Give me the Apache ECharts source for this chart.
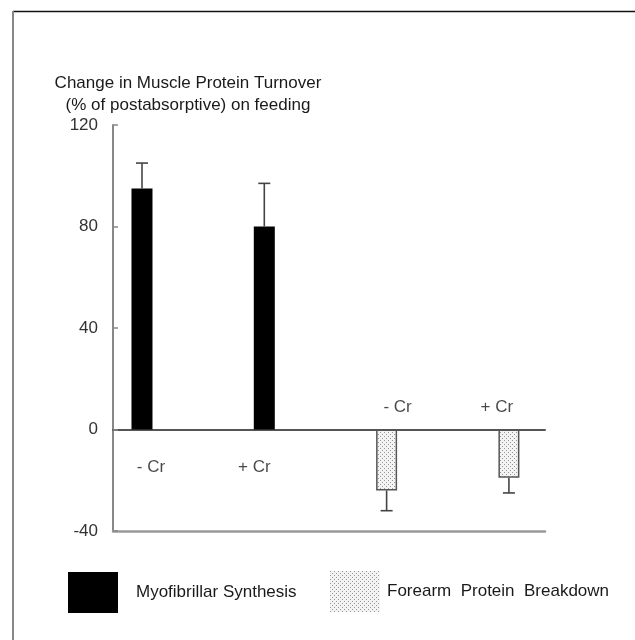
<!DOCTYPE html>
<html>
<head>
<meta charset="utf-8">
<script src="https://cdn.jsdelivr.net/npm/echarts@6/dist/echarts.min.js"></script>
<style>
  html, body { margin: 0; padding: 0; background: #fff; }
  #chart { width: 635px; height: 640px; }
</style>
</head>
<body>
<div id="chart"></div>
<script>
// Conditions under each bar (with / without creatine)
const categories = ['- Cr', '+ Cr', '- Cr', '+ Cr'];
// Change on feeding, % of postabsorptive
const synthesisValues = [95, 80];
const synthesisErrors = [10, 17];
const breakdownValues = [-24, -19];
const breakdownErrors = [8, 6];
const yTicks = [-40, 0, 40, 80, 120];
const seriesNames = ['Myofibrillar Synthesis', 'Forearm  Protein  Breakdown'];

const FONT = 'Liberation Sans, Arial, sans-serif';
const TEXT = '#1a1a1a';

// stippled fill used for the breakdown bars
function stipple() {
  const c = document.createElement('canvas');
  c.width = 4; c.height = 4;
  const g = c.getContext('2d');
  g.fillStyle = '#f3f3f3';
  g.fillRect(0, 0, 4, 4);
  g.fillStyle = '#959595';
  g.fillRect(0, 0, 1, 1);
  g.fillRect(2, 2, 1, 1);
  return { image: c, repeat: 'repeat' };
}
const dots = stipple();

const synthData = synthesisValues.map((v, i) => [i, v]);
const breakData = breakdownValues.map((v, i) => [i + 2, v]);
const errData = synthesisValues.map((v, i) => [i, v, synthesisErrors[i]])
  .concat(breakdownValues.map((v, i) => [i + 2, v, breakdownErrors[i]]));

const labelNudge = [[9, 38], [-10, 38], [11, -22], [-12, -22]];

const chart = echarts.init(document.getElementById('chart'), null, { renderer: 'canvas' });
chart.setOption({
  animation: false,
  backgroundColor: '#fff',
  textStyle: { fontFamily: FONT },
  title: {
    text: 'Change in Muscle Protein Turnover\n(% of postabsorptive) on feeding',
    left: 183,
    top: 67,
    textAlign: 'center',
    textStyle: { fontFamily: FONT, fontSize: 17, lineHeight: 22, fontWeight: 'normal', color: TEXT }
  },
  legend: [
    {
      data: [seriesNames[0]],
      left: 63, top: 567,
      itemWidth: 50, itemHeight: 41,
      icon: 'rect',
      selectedMode: false,
      textStyle: { fontFamily: FONT, fontSize: 17, color: TEXT, padding: [0, 0, 0, 13] }
    },
    {
      data: [seriesNames[1]],
      left: 325, top: 566,
      itemWidth: 50, itemHeight: 41,
      icon: 'rect',
      selectedMode: false,
      itemStyle: { borderWidth: 0 },
      textStyle: { fontFamily: FONT, fontSize: 17, color: TEXT, padding: [0, 0, 0, 2] }
    }
  ],
  grid: { left: 113, right: 90, top: 125, bottom: 109, containLabel: false },
  xAxis: [
    {
      type: 'value', min: -0.237, max: 3.295,
      axisLine: { show: true, onZero: true, lineStyle: { color: '#555', width: 2 } },
      axisTick: { show: false }, axisLabel: { show: false }, splitLine: { show: false }
    },
    {
      type: 'value', min: -0.237, max: 3.295, position: 'bottom',
      axisLine: { show: true, onZero: false, lineStyle: { color: '#999', width: 2.5 } },
      axisTick: { show: false }, axisLabel: { show: false }, splitLine: { show: false }
    }
  ],
  yAxis: {
    type: 'value', min: yTicks[0], max: yTicks[yTicks.length - 1], interval: 40,
    axisLine: { show: true, onZero: false, lineStyle: { color: '#888', width: 2 } },
    axisTick: { show: true, inside: true, length: 5, lineStyle: { color: '#888', width: 1.5 } },
    axisLabel: { color: '#333', fontSize: 17, fontFamily: FONT, margin: 15, padding: [6, 0, 0, 0] },
    splitLine: { show: false }
  },
  series: [
    {
      name: seriesNames[0], type: 'bar', data: synthData,
      barWidth: 21, barGap: '-100%',
      itemStyle: { color: '#000' }
    },
    {
      name: seriesNames[1], type: 'bar', data: breakData,
      barWidth: 21, barGap: '-100%',
      itemStyle: { color: dots, borderColor: '#555', borderWidth: 1.5 }
    },
    {
      type: 'custom', name: 'error', data: errData, z: 3, silent: true,
      renderItem: function (params, api) {
        const x = api.value(0), v = api.value(1), e = api.value(2);
        const tip = v >= 0 ? v + e : v - e;
        const a = api.coord([x, v]);
        const b = api.coord([x, tip]);
        const half = 6;
        const st = { stroke: '#444', lineWidth: 1.6 };
        return {
          type: 'group',
          children: [
            { type: 'line', shape: { x1: a[0], y1: a[1], x2: b[0], y2: b[1] }, style: st },
            { type: 'line', shape: { x1: b[0] - half, y1: b[1], x2: b[0] + half, y2: b[1] }, style: st }
          ]
        };
      }
    },
    {
      type: 'scatter', name: 'conditions', silent: true,
      symbolSize: 1, itemStyle: { color: 'rgba(0,0,0,0)' },
      data: categories.map((c, i) => ({
        value: [i, 0],
        label: {
          show: true, position: 'inside', formatter: c,
          offset: labelNudge[i],
          color: TEXT, fontSize: 17, fontFamily: FONT
        }
      }))
    }
  ],
  graphic: [
    { type: 'line', shape: { x1: 13, y1: 11.5, x2: 635, y2: 11.5 }, style: { stroke: '#111', lineWidth: 1.5 }, silent: true },
    { type: 'line', shape: { x1: 13, y1: 11, x2: 13, y2: 640 }, style: { stroke: '#888', lineWidth: 2 }, silent: true }
  ]
});
</script>
</body>
</html>
